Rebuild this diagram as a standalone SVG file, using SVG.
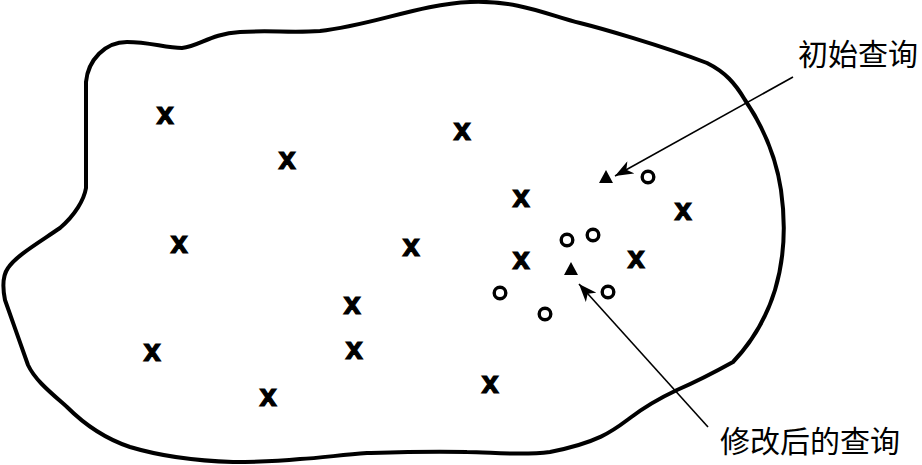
<svg xmlns="http://www.w3.org/2000/svg" width="922" height="465" viewBox="0 0 922 465">
<style>
.outline{fill:none;stroke:#000;stroke-width:4;stroke-linejoin:round}
.x{font-family:"Liberation Sans",Arial,sans-serif;font-weight:bold;font-size:31px;text-anchor:middle;fill:#000;stroke:#000;stroke-width:1.2}
.o{fill:none;stroke:#000;stroke-width:3.4}
.lbl{font-family:"Noto Sans CJK SC",sans-serif;font-size:30px;fill:#000}
.conn{stroke:#000;stroke-width:1.6;fill:none}
</style>
<defs>
<marker id="ah" markerWidth="20" markerHeight="14" refX="18" refY="7" orient="auto" markerUnits="userSpaceOnUse">
<path d="M0,0 L18,7 L0,14 L5,7 Z" fill="#000"/>
</marker>
</defs>
<rect width="922" height="465" fill="#fff"/>
<g id="region">
<path class="outline" d="M86,188 L86,82 C88,60 105,42 127,42 C150,42 165,48 182,48 C200,46 210,34 240,32 C270,30 290,33 320,31 C370,26 420,4 470,2 C520,0 550,16 580,23 C600,28 660,45 707,63 C725,72 735,83 745,100 C760,122 775,150 781,190 C786,225 784,260 775,290 C767,316 752,342 733,362 L733,362 C715,372 700,380 677,390 C660,398 647,405 630,418 C614,430 600,442 550,452 C520,456 490,452 467,452 C430,451 400,452 367,453 C340,455 320,458 300,459 C270,462 233,462 233,462 C200,461 160,456 130,447 C100,437 80,420 67,407 C50,392 35,380 28,365 C22,348 12,320 5,300 C2,285 3,275 8,268 C16,256 35,245 60,228 C75,215 84,200 86,188 Z"/>
</g>
<g id="markers-x">
<text class="x" x="165" y="124">x</text>
<text class="x" x="287" y="169">x</text>
<text class="x" x="462" y="140">x</text>
<text class="x" x="521" y="207">x</text>
<text class="x" x="683" y="220">x</text>
<text class="x" x="179" y="253">x</text>
<text class="x" x="411" y="256">x</text>
<text class="x" x="521" y="269">x</text>
<text class="x" x="636" y="268">x</text>
<text class="x" x="352" y="314">x</text>
<text class="x" x="354" y="359">x</text>
<text class="x" x="152" y="361">x</text>
<text class="x" x="268" y="406">x</text>
<text class="x" x="490" y="393">x</text>
</g>
<g id="markers-o">
<circle class="o" cx="648" cy="177" r="5.8"/>
<circle class="o" cx="567" cy="240" r="5.8"/>
<circle class="o" cx="593" cy="235" r="5.8"/>
<circle class="o" cx="608" cy="292" r="5.8"/>
<circle class="o" cx="500" cy="293" r="5.8"/>
<circle class="o" cx="545" cy="314" r="5.8"/>
</g>
<g id="initial-query">
<polygon points="606,170 613,183 599,183" fill="#000"/>
</g>
<g id="modified-query">
<polygon points="571,262 578,275 564,275" fill="#000"/>
</g>
<g id="connectors">
<line class="conn" x1="793" y1="77" x2="615" y2="176" marker-end="url(#ah)"/>
<line class="conn" x1="708" y1="427" x2="579" y2="284" marker-end="url(#ah)"/>
</g>
<g id="label-initial">
<text class="lbl" x="798" y="65">初始查询</text>
</g>
<g id="label-modified">
<text class="lbl" x="720" y="452">修改后的查询</text>
</g>
</svg>
